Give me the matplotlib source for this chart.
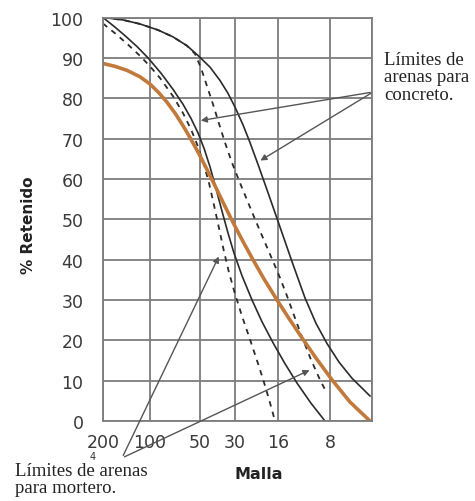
import matplotlib
matplotlib.use("Agg")
import matplotlib.pyplot as plt
from matplotlib.patches import FancyArrowPatch

# x axis: sieve positions (custom spacing)
sieve_labels = ["200", "100", "50", "30", "16", "8", ""]
sieve_pos = [0, 47, 97, 132, 175, 227, 269]
y_ticks = [0, 10, 20, 30, 40, 50, 60, 70, 80, 90, 100]

# concrete limit (solid, right)
c_up_x = [0, 20, 37, 55, 70, 84, 95, 107, 117, 125, 132, 140, 147, 155, 164, 175, 189, 202, 213, 224, 236, 249, 267]
c_up_y = [100, 99.4, 98.4, 96.9, 95.2, 93.0, 90.6, 87.7, 84.4, 81.2, 77.8, 73.4, 69.0, 63.6, 57.3, 49.5, 39.5, 30.5, 24.2, 19.2, 14.6, 10.6, 6.2]
# concrete limit (solid, left)
c_lo_x = [0, 12, 22, 34, 45, 58, 70, 80, 88, 95, 101, 107, 113, 119, 125, 131, 139, 149, 159, 170, 182, 194, 208, 222]
c_lo_y = [100, 97.6, 95.5, 92.8, 90, 86.2, 82.2, 78.5, 75.0, 71.4, 67.6, 63.0, 57.6, 52.0, 46.6, 41.6, 36.0, 30.0, 24.6, 19.4, 14.2, 9.4, 4.4, 0]
# mortar limit (dashed, left)
m_lo_x = [0, 12, 24, 37, 47, 57, 70, 80, 88, 95, 101, 106, 111, 116, 121, 126, 132, 139, 147, 154, 160, 166, 172]
m_lo_y = [98.5, 96.1, 93.5, 90.5, 87.9, 85.0, 80.5, 76.3, 72.3, 68.0, 63.5, 59.0, 53.5, 47.8, 42.0, 36.8, 31.5, 26.0, 20.2, 15.0, 10.4, 5.4, 0]
# mortar limit (dashed, right)
m_up_x = [0, 20, 37, 55, 70, 84, 92, 98, 104, 110, 116, 122, 129, 136, 144, 152, 161, 170, 177, 184, 191, 199, 208, 217, 222]
m_up_y = [100, 99.4, 98.4, 96.9, 95.2, 93.0, 91.0, 87.5, 83.0, 78.5, 73.7, 69.0, 64.0, 59.6, 54.8, 50.0, 44.8, 39.6, 35.5, 31.0, 26.2, 20.8, 15.2, 10.2, 7.8]
# sample sand (orange)
s_x = [0, 12, 24, 37, 47, 56, 64, 72, 80, 88, 96, 104, 112, 120, 128, 138, 149, 161, 174, 186, 199, 213, 229, 247, 267]
s_y = [88.6, 87.9, 86.9, 85.3, 83.5, 81.3, 79.0, 76.3, 73.2, 69.8, 66.2, 62.3, 58.3, 54.2, 50.2, 45.4, 40.4, 35.2, 30.0, 25.4, 20.6, 15.6, 10.2, 4.7, 0]

W, H = 475, 502
fig = plt.figure(figsize=(W / 100, H / 100), dpi=100)
ax = fig.add_axes([103 / W, 1 - 422 / H, (372 - 103) / W, (422 - 18.5) / H])

ax.set_xlim(0, 269)
ax.set_ylim(0, 100)
ax.set_xticks(sieve_pos)
ax.set_xticklabels(sieve_labels)
ax.set_yticks(y_ticks)
ax.grid(True, color="#7d7d7d", linewidth=1.3)
for s in ax.spines.values():
    s.set_color("#7d7d7d")
    s.set_linewidth(1.3)
ax.tick_params(length=0, labelsize=12.5, labelcolor="#3a3a3a", pad=14)
ax.tick_params(axis="x", pad=9)

ax.plot(c_up_x, c_up_y, color="#2b2b2b", lw=1.2)
ax.plot(c_lo_x, c_lo_y, color="#2b2b2b", lw=1.2)
ax.plot(m_lo_x, m_lo_y, color="#2b2b2b", lw=1.3, ls=(0, (3, 3)))
ax.plot(m_up_x, m_up_y, color="#2b2b2b", lw=1.3, ls=(0, (3, 3)))
ax.plot(s_x, s_y, color="#c27a3c", lw=2.6)

ax.set_ylabel("% Retenido", fontsize=11, fontweight="bold", color="#222222")
ax.set_xlabel("Malla", fontsize=11.5, fontweight="bold", color="#222222")
ax.xaxis.set_label_coords((259 - 103) / (372 - 103), -(467 - 422) / (422 - 18.5))
ax.yaxis.set_label_coords(-(103 - 36) / (372 - 103), (422 - 225) / (422 - 18.5))

def px(x, y):
    return (x / W, 1 - y / H)

arrow_kw = dict(arrowstyle="-|>", color="#555555", lw=1.0, mutation_scale=9)
for tip in [(198, 122), (258, 163)]:
    fig.patches.append(FancyArrowPatch(
        px(373, 93), px(*tip), transform=fig.transFigure, **arrow_kw))
for tip in [(220, 255), (312, 370)]:
    fig.patches.append(FancyArrowPatch(
        px(122, 459), px(*tip), transform=fig.transFigure, **arrow_kw))

serif = ["Liberation Serif", "DejaVu Serif"]
fig.text(384 / W, 1 - 52 / H, "Límites de\narenas para\nconcreto.", family=serif,
         fontsize=13.5, va="top", ha="left", linespacing=1.02, color="#222222")
fig.text(15 / W, 1 - 463 / H, "Límites de arenas\npara mortero.", family=serif,
         fontsize=13.5, va="top", ha="left", linespacing=1.02, color="#222222")
fig.text(93 / W, 1 - 457 / H, "4", fontsize=7, ha="center", va="center", color="#333333")

fig.savefig("out.png", dpi=100)
